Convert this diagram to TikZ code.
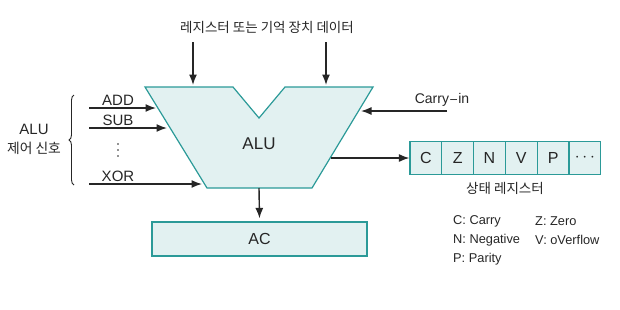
\documentclass[tikz,border=0pt]{standalone}
\usepackage{fontspec}
\setmainfont{Liberation Sans}
\newfontfamily\kr{Noto Sans CJK KR}
\usetikzlibrary{arrows.meta,decorations.pathreplacing,calc}
\definecolor{tealline}{HTML}{2B9A98}
\definecolor{tealfill}{HTML}{E2F1F1}
\definecolor{ink}{HTML}{262626}
\begin{document}
\begin{tikzpicture}[x=1pt,y=-1pt,
  arr/.style={draw=ink,line width=1.4pt,-{Latex[length=10.5pt,width=8pt]}},
  box/.style={draw=tealline,fill=tealfill,line width=1.2pt},
  lbl/.style={font=\fontsize{15}{16}\selectfont,text=ink,inner sep=0pt},
  krlbl/.style={font=\kr\fontsize{13.5}{15}\selectfont,text=ink,inner sep=0pt},
  leg/.style={font=\fontsize{12.8}{14}\selectfont,text=ink,inner sep=0pt,anchor=west},
  cell/.style={box,minimum width=31.8pt,minimum height=32.3pt,inner sep=0pt,font=\fontsize{16}{17}\selectfont,text=ink}]
\useasboundingbox (0,0) rectangle (620,309);
% ALU shape
\path[box] (145,87) -- (233,87) -- (259,118) -- (285,87) -- (373,87) -- (312,188) -- (207,188) -- cycle;
\node[font=\fontsize{17}{18}\selectfont,text=ink] (alu) at (259,144) {ALU};
% AC box
\node[box,minimum width=215pt,minimum height=34pt,inner sep=0pt,font=\fontsize{16}{17}\selectfont,text=ink] (ac) at (259.5,239) {AC};
% top text
\node[krlbl] (top) at (267,27) {레지스터 또는 기억 장치 데이터};
\coordinate (t1s) at (193,42); \coordinate (t1e) at (193,85);
\coordinate (t2s) at (326,42); \coordinate (t2e) at (326,85);
\draw[arr] (t1s) -- (t1e);
\draw[arr] (t2s) -- (t2e);
% left control inputs
\coordinate (adds) at (89,108); \coordinate (adde) at (156,108);
\coordinate (subs) at (89,128); \coordinate (sube) at (167,128);
\coordinate (xors) at (89,184); \coordinate (xore) at (202,184);
\draw[arr] (adds) -- (adde);
\draw[arr] (subs) -- (sube);
\draw[arr] (xors) -- (xore);
\node[lbl] (add) at (118,100) {ADD};
\node[lbl] (sub) at (118,120.5) {SUB};
\node[lbl] (xor) at (118,176.5) {XOR};
\foreach \yy in {144,150,156} \fill[ink] (118,\yy) circle (0.8pt);
% brace
\draw[ink,line width=0.9pt,decorate,decoration={brace,amplitude=5pt}] (74,185) -- (74,95);
\node[lbl] (alul) at (34,129) {ALU};
\node[krlbl,font=\kr\fontsize{13.8}{15}\selectfont] (ctl) at (34,148.5) {제어 신호};
% carry-in
\coordinate (cis) at (447,111); \coordinate (cie) at (361,111);
\draw[arr] (cis) -- (cie);
\node[lbl,font=\fontsize{14}{15}\selectfont] (carry) at (442,100) {Carry{\fontspec{DejaVu Sans}\fontsize{11}{14}\selectfont −}in};
% status register
\foreach \t [count=\i from 0] in {C,Z,N,V,P,{$\cdots$}} {
  \node[cell] (s\i) at ({410+31.8*(\i+0.5)},158) {\t};
}
\coordinate (outs) at (331,158);
\draw[arr] (outs) -- (s0.west);
\node[krlbl] (sr) at (505,188) {상태 레지스터};
% ALU -> AC
\coordinate (alub) at (259,188);
\draw[arr] (alub) -- ($(ac.north)+(0,-3)$);
% legend
\node[leg] (l1) at (453,221) {C: Carry};
\node[leg] (l2) at (535,221) {Z: Zero};
\node[leg] (l3) at (453,240) {N: Negative};
\node[leg] (l4) at (535,240) {V: oVerflow};
\node[leg] (l5) at (453,259) {P: Parity};
\end{tikzpicture}
\end{document}
